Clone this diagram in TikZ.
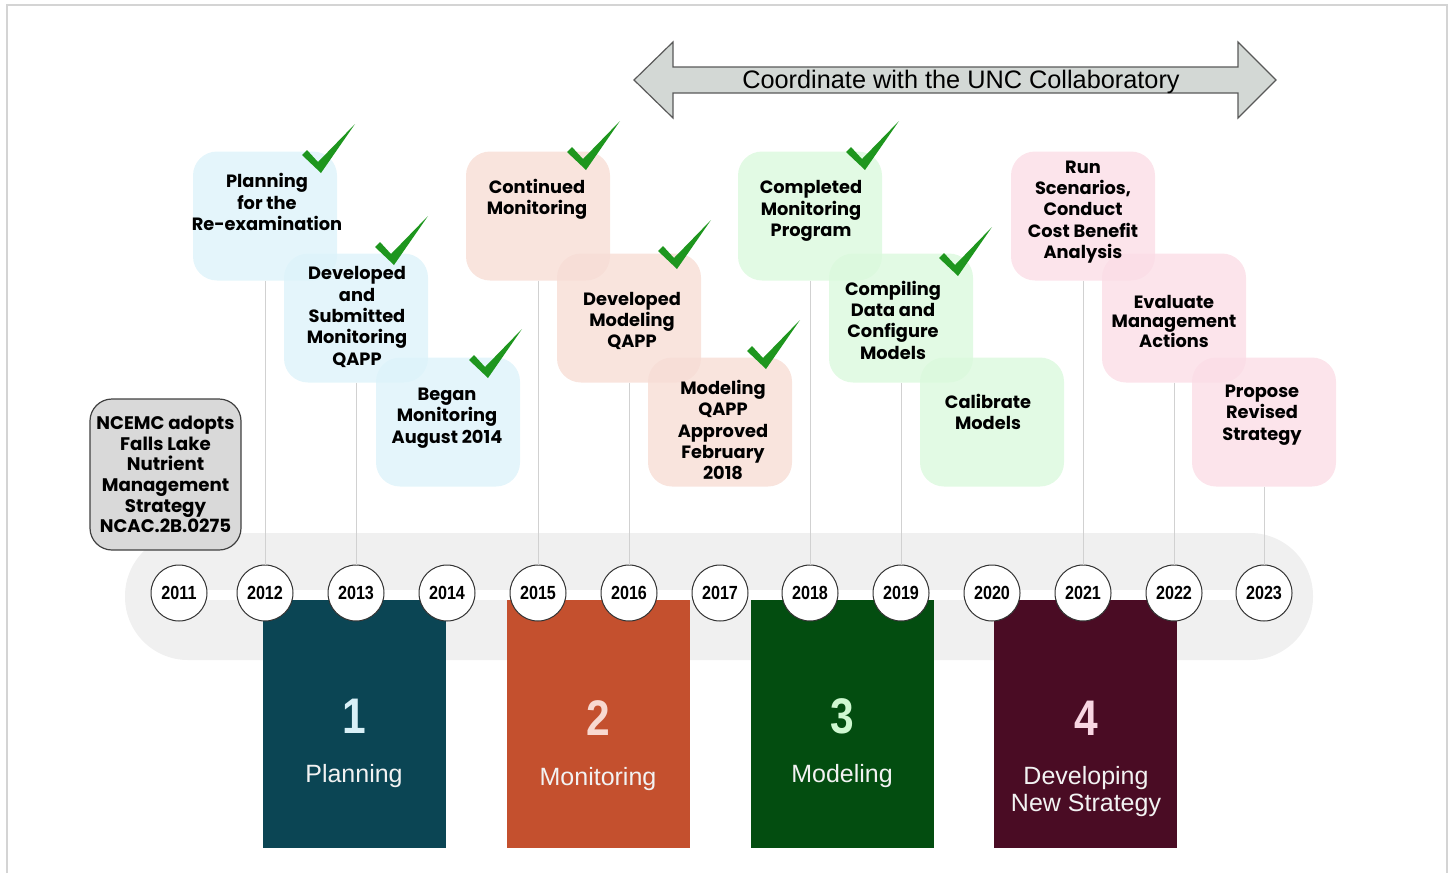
\documentclass[tikz,border=0pt]{standalone}
\usepackage{fontspec}
\setmainfont{Poppins}
\newfontfamily\arialfont{Liberation Sans}
\newfontfamily\narrowfont{Liberation Sans}[FakeStretch=0.85]
\usetikzlibrary{positioning}
\definecolor{frameg}{RGB}{212,212,212}
\definecolor{bandg}{RGB}{240,240,240}
\definecolor{arrowg}{RGB}{211,216,213}
\definecolor{chkgreen}{RGB}{30,150,30}
\definecolor{cblue}{RGB}{221,243,250}
\definecolor{csalmon}{RGB}{247,221,213}
\definecolor{cgreen}{RGB}{219,249,221}
\definecolor{cpink}{RGB}{251,221,230}
\definecolor{plnteal}{RGB}{11,69,84}
\definecolor{monorange}{RGB}{196,80,46}
\definecolor{modgreen}{RGB}{3,77,16}
\definecolor{devmaroon}{RGB}{74,12,36}
\definecolor{numblue}{RGB}{217,240,247}
\definecolor{numsalmon}{RGB}{248,217,208}
\definecolor{numgreen}{RGB}{207,248,209}
\definecolor{numpink}{RGB}{248,214,226}

\begin{document}
\begin{tikzpicture}[x=1pt,y=-1pt,
    yr/.style={circle,draw=black!80,fill=white,line width=1pt,minimum size=56pt,inner sep=0pt,
      font=\narrowfont\bfseries\fontsize{19}{19}\selectfont},
    card/.style={rounded corners=24pt,minimum width=144pt,minimum height=129pt,inner sep=0pt,fill opacity=0.8},
    cardtxt/.style={align=center,inner sep=0pt,font=\bfseries\fontsize{17.8}{21.3}\selectfont},
    phase/.style={minimum width=183pt,minimum height=248pt,inner sep=0pt},
    num/.style={font=\narrowfont\bfseries\fontsize{50}{50}\selectfont},
    plab/.style={align=center,text=white!95!black,font=\arialfont\fontsize{25}{27}\selectfont},
    stem/.style={draw=black!18,line width=0.8pt}]
  \useasboundingbox (0,0) rectangle (1453,873);
  \draw[frameg,line width=2pt] (7,873) -- (7,5) -- (1447,5) -- (1447,873);

  % coordinate arrow
  \filldraw[fill=arrowg,draw=black!65,line width=1.2pt] (634,80) -- (673,42) -- (673,67) -- (1238,67)
    -- (1238,42) -- (1276,80) -- (1238,118) -- (1238,93) -- (673,93) -- (673,118) -- cycle;
  \node[font=\arialfont\fontsize{25.3}{25}\selectfont] (collab) at (961,82) {Coordinate with the UNC Collaboratory};

  % timeline band
  \fill[bandg,rounded corners=63pt] (125,533) rectangle (1313,660);
  \fill[white] (152,590) rectangle (1290,600);

  % phases
  \node[phase,fill=plnteal] (ph1) at (354.5,724) {};
  \node[phase,fill=monorange] (ph2) at (598,724) {};
  \node[phase,fill=modgreen] (ph3) at (842,724) {};
  \node[phase,fill=devmaroon] (ph4) at (1085,724) {};
  \node[num,text=numblue] (n1) at (354,716) {1};
  \node[num,text=numsalmon] (n2) at (598,718) {2};
  \node[num,text=numgreen] (n3) at (842,716) {3};
  \node[num,text=numpink] (n4) at (1086,718) {4};
  \node[plab] (l1) at (354,776) {Planning};
  \node[plab] (l2) at (598,779) {Monitoring};
  \node[plab] (l3) at (842,776) {Modeling};
  \node[plab] (l4) at (1086,792) {Developing\\New Strategy};

  % years
  \foreach \yr/\x in {2011/179,2012/265,2013/356,2014/447,2015/538,2016/629,2017/720,
                      2018/810,2019/901,2020/992,2021/1083,2022/1174,2023/1264}
    \node[yr] (y\yr) at (\x,593) {\yr};

  \node[draw=black!75,fill=black!15,line width=1.2pt,rounded corners=22pt,minimum size=151pt,inner sep=0pt,
    align=center,font=\bfseries\fontsize{18.2}{20.6}\selectfont] (ncemc) at (165.5,474.5)
    {NCEMC adopts\\Falls Lake\\Nutrient\\Management\\Strategy\\NCAC.2B.0275};

  % cards
  \node[card,fill=cblue] (b1) at (265,216) {};
  \node[card,fill=cblue] (b2) at (356,318) {};
  \node[card,fill=cblue] (b3) at (448,422) {};
  \node[card,fill=csalmon] (c1) at (538,216) {};
  \node[card,fill=csalmon] (c2) at (629,318) {};
  \node[card,fill=csalmon] (c3) at (720,422) {};
  \node[card,fill=cgreen] (g1) at (810,216) {};
  \node[card,fill=cgreen] (g2) at (901,318) {};
  \node[card,fill=cgreen] (g3) at (992,422) {};
  \node[card,fill=cpink] (r1) at (1083,216) {};
  \node[card,fill=cpink] (r2) at (1174,318) {};
  \node[card,fill=cpink] (r3) at (1264,422) {};

  \node[cardtxt] (tb1) at (267,202) {Planning\\for the\\Re-examination};
  \node[cardtxt] (tb2) at (357,317) {Developed\\and\\Submitted\\Monitoring\\QAPP};
  \node[cardtxt] (tb3) at (447,418) {Began\\Monitoring\\August 2014};
  \node[cardtxt] (tc1) at (537,199) {Continued\\Monitoring};
  \node[cardtxt] (tc2) at (632,321) {Developed\\Modeling\\QAPP};
  \node[cardtxt] (tc3) at (723,430) {Modeling\\QAPP\\Approved\\February\\2018};
  \node[cardtxt] (tg1) at (811,211) {Completed\\Monitoring\\Program};
  \node[cardtxt] (tg2) at (893,320) {Compiling\\Data and\\Configure\\Models};
  \node[cardtxt] (tg3) at (988,412) {Calibrate\\Models};
  \node[cardtxt] (tr1) at (1083,212) {Run\\Scenarios,\\Conduct\\Cost Benefit\\Analysis};
  \node[cardtxt,font=\bfseries\fontsize{17.8}{19.5}\selectfont] (tr2) at (1174,321) {Evaluate\\Management\\Actions};
  \node[cardtxt] (tr3) at (1262,415) {Propose\\Revised\\Strategy};

  \foreach \from/\to in {b1/y2012,b2/y2013,c1/y2015,c2/y2016,g1/y2018,g2/y2019,r1/y2021,r2/y2022,r3/y2023}
    \draw[stem] (\from) -- (\to);

  % checks
  \foreach \x/\y in {319/172,392/264,486/377,584/169,675/268,764/368,863/169,956/275}
    \fill[chkgreen,shift={(\x,\y)}] (-17,-17) -- (-12,-22) -- (-1,-10) -- (36,-48) -- (2,1) -- cycle;
\end{tikzpicture}
\end{document}
